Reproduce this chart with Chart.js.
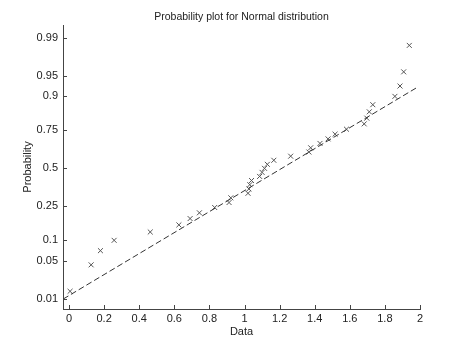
<!DOCTYPE html>
<html>
<head>
<meta charset="utf-8">
<script src="https://cdn.jsdelivr.net/npm/chart.js@4/dist/chart.umd.min.js"></script>
<style>
  html, body { margin: 0; padding: 0; background: #fff; }
  #wrap { width: 465px; height: 350px; }
</style>
</head>
<body>
<div id="wrap"><canvas id="c" width="465" height="350"></canvas></div>
<script>
const dataValues = [0.006, 0.126, 0.179, 0.257, 0.463, 0.626, 0.69, 0.743, 0.83, 0.912,
  0.922, 1.02, 1.025, 1.03, 1.04, 1.086, 1.10, 1.114, 1.13, 1.167,
  1.263, 1.367, 1.377, 1.43, 1.476, 1.516, 1.581, 1.682, 1.697, 1.711,
  1.731, 1.857, 1.886, 1.907, 1.939];
// Probability (plotting position) of each point
const probabilities = [0.0143, 0.0429, 0.0714, 0.1000, 0.1286, 0.1571, 0.1857, 0.2143, 0.2429, 0.2714,
  0.3000, 0.3286, 0.3571, 0.3857, 0.4143, 0.4429, 0.4714, 0.5000, 0.5286, 0.5571,
  0.5857, 0.6143, 0.6429, 0.6714, 0.7000, 0.7286, 0.7571, 0.7857, 0.8143, 0.8429,
  0.8714, 0.9000, 0.9286, 0.9571, 0.9857];
// Reference line end points
const refLineX = [-0.033, 1.981];
const refLineP = [0.01, 0.9245];
// Tick values / labels
const probTickValues = [0.01, 0.05, 0.1, 0.25, 0.5, 0.75, 0.9, 0.95, 0.99];
const probTickLabels = ['0.01', '0.05', '0.1', '0.25', '0.5', '0.75', '0.9', '0.95', '0.99'];
const xTickValues = [0, 0.2, 0.4, 0.6, 0.8, 1, 1.2, 1.4, 1.6, 1.8, 2];
const xTickLabels = ['0', '0.2', '0.4', '0.6', '0.8', '1', '1.2', '1.4', '1.6', '1.8', '2'];

// Normal probability scale transform (inverse standard normal CDF)
function norminv(p) {
  const a = [-3.969683028665376e+01, 2.209460984245205e+02, -2.759285104469687e+02, 1.383577518672690e+02, -3.066479806614716e+01, 2.506628277459239e+00];
  const b = [-5.447609879822406e+01, 1.615858368580409e+02, -1.556989798598866e+02, 6.680131188771972e+01, -1.328068155288572e+01];
  const c = [-7.784894002430293e-03, -3.223964580411365e-01, -2.400758277161838e+00, -2.549732539343734e+00, 4.374664141464968e+00, 2.938163982698783e+00];
  const d = [7.784695709041462e-03, 3.224671290700398e-01, 2.445134137142996e+00, 3.754408661907416e+00];
  const plow = 0.02425, phigh = 1 - plow;
  let q, r;
  if (p < plow) {
    q = Math.sqrt(-2 * Math.log(p));
    return (((((c[0]*q+c[1])*q+c[2])*q+c[3])*q+c[4])*q+c[5]) / ((((d[0]*q+d[1])*q+d[2])*q+d[3])*q+1);
  } else if (p <= phigh) {
    q = p - 0.5; r = q*q;
    return (((((a[0]*r+a[1])*r+a[2])*r+a[3])*r+a[4])*r+a[5])*q / (((((b[0]*r+b[1])*r+b[2])*r+b[3])*r+b[4])*r+1);
  } else {
    q = Math.sqrt(-2 * Math.log(1 - p));
    return -(((((c[0]*q+c[1])*q+c[2])*q+c[3])*q+c[4])*q+c[5]) / ((((d[0]*q+d[1])*q+d[2])*q+d[3])*q+1);
  }
}

const pointData = dataValues.map((x, i) => ({ x: x, y: norminv(probabilities[i]) }));
const lineData = refLineX.map((x, i) => ({ x: x, y: norminv(refLineP[i]) }));

const textColor = '#222';
const axisColor = '#444';
const FONT = 'Liberation Sans, Arial, Helvetica, sans-serif';

// Inward tick marks (MATLAB style)
const inwardTicks = {
  id: 'inwardTicks',
  afterDraw(chart) {
    const ctx = chart.ctx;
    const xs = chart.scales.x, ys = chart.scales.y;
    const area = chart.chartArea;
    ctx.save();
    ctx.strokeStyle = axisColor;
    ctx.lineWidth = 1;
    ctx.beginPath();
    xs.ticks.forEach(t => {
      const px = Math.round(xs.getPixelForValue(t.value)) + 0.5;
      ctx.moveTo(px, area.bottom);
      ctx.lineTo(px, area.bottom - 4);
    });
    ys.ticks.forEach(t => {
      const py = Math.round(ys.getPixelForValue(t.value)) + 0.5;
      ctx.moveTo(area.left, py);
      ctx.lineTo(area.left + 4, py);
    });
    ctx.stroke();
    ctx.restore();
  }
};

new Chart(document.getElementById('c'), {
  type: 'scatter',
  data: {
    datasets: [
      {
        label: 'reference',
        data: lineData,
        showLine: true,
        borderColor: '#333',
        borderWidth: 1,
        borderDash: [6, 3],
        pointRadius: 0,
        fill: false
      },
      {
        label: 'data',
        data: pointData,
        pointStyle: 'crossRot',
        pointRadius: 3.5,
        pointBorderWidth: 1,
        borderColor: '#555',
        backgroundColor: '#555',
        showLine: false
      }
    ]
  },
  options: {
    responsive: false,
    animation: false,
    devicePixelRatio: 1,
    layout: { padding: { left: 0, right: 45, top: 0, bottom: 0 } },
    plugins: {
      legend: { display: false },
      tooltip: { enabled: false },
      title: {
        display: true,
        text: 'Probability plot for Normal distribution',
        color: textColor,
        fullSize: false,
        font: { family: FONT, size: 10.5, weight: 'normal' },
        padding: { top: 11, bottom: 1.4 }
      }
    },
    scales: {
      x: {
        type: 'linear',
        min: -0.0343,
        max: 2,
        afterBuildTicks(scale) { scale.ticks = xTickValues.map(v => ({ value: v })); },
        afterFit(scale) { scale.height = 41; },
        ticks: {
          color: textColor,
          font: { family: FONT, size: 11 },
          padding: 3,
          maxRotation: 0,
          autoSkip: false,
          callback: (v, i) => xTickLabels[i]
        },
        grid: { display: true, drawOnChartArea: false, drawTicks: false },
        border: { display: true, color: axisColor, width: 1 },
        title: {
          display: true,
          text: 'Data',
          color: textColor,
          font: { family: FONT, size: 11 },
          padding: { top: 0, bottom: 11 }
        }
      },
      y: {
        type: 'linear',
        min: -2.504,
        max: 2.552,
        afterBuildTicks(scale) { scale.ticks = probTickValues.map(p => ({ value: norminv(p) })); },
        afterFit(scale) { scale.width = 63; },
        ticks: {
          color: textColor,
          font: { family: FONT, size: 11 },
          padding: 5,
          autoSkip: false,
          callback: (v, i) => probTickLabels[i]
        },
        grid: { display: true, drawOnChartArea: false, drawTicks: false },
        border: { display: true, color: axisColor, width: 1 },
        title: {
          display: true,
          text: 'Probability',
          color: textColor,
          font: { family: FONT, size: 11 },
          padding: { top: 21, bottom: 0 }
        }
      }
    }
  },
  plugins: [inwardTicks]
});
</script>
</body>
</html>
